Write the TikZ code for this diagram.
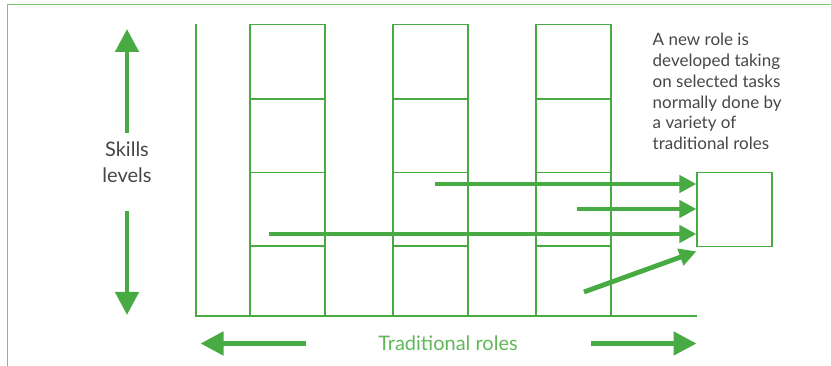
\documentclass[tikz,border=0pt]{standalone}
\usepackage{fontspec}
\setmainfont{Lato}
\usetikzlibrary{arrows.meta,calc}
\definecolor{rolegreen}{RGB}{72,170,66}
\definecolor{framegreen}{RGB}{120,196,112}
\definecolor{labelgreen}{RGB}{96,184,88}
\definecolor{textgray}{RGB}{70,70,70}
\tikzset{
  cell/.style={draw=rolegreen, line width=1.2pt, inner sep=0pt, minimum width=75pt},
  axisline/.style={draw=rolegreen, line width=2pt},
  taskarrow/.style={draw=rolegreen, line width=4.8pt, -{Triangle[length=17pt,width=17pt]}},
  bigarrow/.style={draw=rolegreen, line width=4.8pt, -{Triangle[length=23pt,width=23pt]}},
  graytext/.style={text=textgray, font=\fontsize{20}{25.7}\selectfont, align=center, inner sep=0pt},
  notetext/.style={text=textgray, font=\fontsize{17}{20.8}\selectfont, align=left, inner sep=0pt, anchor=north west},
}
\begin{document}
\begin{tikzpicture}[x=1pt,y=-1pt]
  \useasboundingbox (0,0) rectangle (831,366);
  % outer frame
  \draw[framegreen, line width=1.3pt] (7.5,366) -- (7.5,4.5) -- (831,4.5);

  % column cells (three traditional roles, four skill levels each)
  \foreach \cx/\c in {287.5/a,430.5/b,573.5/c}{
    \node[cell, minimum height=74.5pt] (\c1) at (\cx,61.75) {};
    \node[cell, minimum height=73.5pt] (\c2) at (\cx,135.75) {};
    \node[cell, minimum height=73.5pt] (\c3) at (\cx,209.25) {};
    \node[cell, minimum height=70pt]   (\c4) at (\cx,281) {};
  }

  % axes
  \coordinate (origin) at (196,316);
  \coordinate (ytop) at (196,24);
  \coordinate (xend) at (697,316);
  \draw[axisline] (ytop) -- (origin) -- (xend);

  % new role box
  \node[cell, minimum height=74.5pt] (newrole) at (734.5,209.5) {};

  % task arrows into the new role
  \coordinate (t1) at (435,184);
  \coordinate (t2) at (577,209);
  \coordinate (t3) at (269,234);
  \coordinate (t4) at (584,292);
  \draw[taskarrow] (t1) -- (t1 -| newrole.west);
  \draw[taskarrow] (t2) -- (t2 -| newrole.west);
  \draw[taskarrow] (t3) -- (t3 -| newrole.west);
  \draw[taskarrow] (t4) -- ($(newrole.south west)+(0,4)$);

  % skills levels
  \node[graytext] (skills) at (127,162.3) {Skills\\levels};
  \coordinate (sk1) at (127,133);
  \coordinate (sk2) at (127,29);
  \coordinate (sk3) at (127,211);
  \coordinate (sk4) at (127,315);
  \draw[bigarrow] (sk1) -- (sk2);
  \draw[bigarrow] (sk3) -- (sk4);

  % traditional roles
  \node[text=labelgreen, font=\fontsize{20}{24}\selectfont, inner sep=0pt] (trad) at (448,343) {Traditional roles};
  \coordinate (tr1) at (306,343.5);
  \coordinate (tr2) at (200.5,343.5);
  \coordinate (tr3) at (591,343.5);
  \coordinate (tr4) at (696.5,343.5);
  \draw[bigarrow] (tr1) -- (tr2);
  \draw[bigarrow] (tr3) -- (tr4);

  % explanatory note
  \node[notetext] (note) at (652.5,33) {A new role is\\developed taking\\on selected tasks\\normally done by\\a variety of\\traditional roles};
\end{tikzpicture}
\end{document}
